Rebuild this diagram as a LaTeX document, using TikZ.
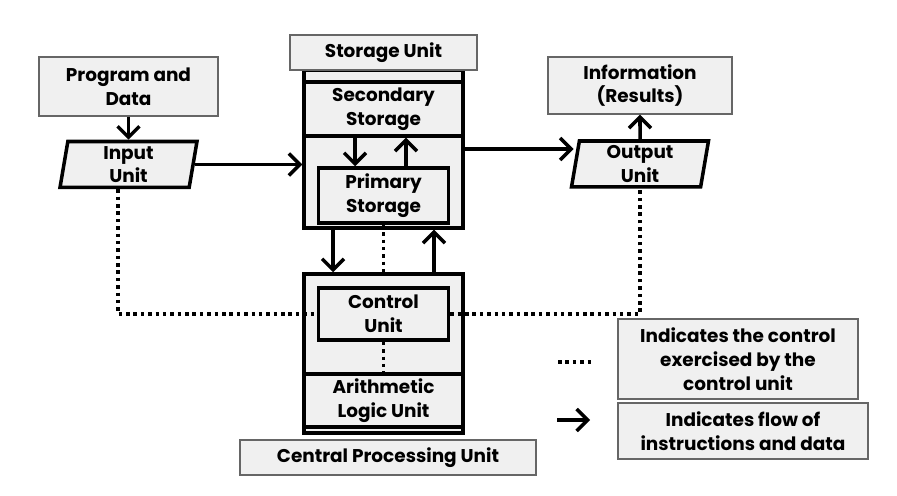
\documentclass[tikz,border=0pt]{standalone}
\usepackage{fontspec}
\setmainfont{Poppins}
\usepackage{tikz}
\usetikzlibrary{arrows.meta, positioning, calc, shapes.geometric}
\definecolor{boxgray}{HTML}{F0F0F0}

\begin{document}
\begin{tikzpicture}[
    x=0.02cm, y=-0.02cm,
    font=\bfseries\fontsize{10.5}{13.5}\selectfont,
    tag/.style={rectangle, draw=black!60, fill=boxgray, line width=0.7pt, align=center, inner sep=0pt},
    unit/.style={rectangle, draw, fill=boxgray, line width=2pt, align=center, inner sep=0pt},
    io/.style={trapezium, trapezium left angle=78, trapezium right angle=102, trapezium stretches body,
        draw, fill=boxgray, line width=2pt, align=center, inner sep=0pt, minimum width=2.74cm, minimum height=0.92cm},
    arrow/.style={-{Straight Barb[length=2.2mm, width=4.4mm]}, line width=2pt},
    ctrl/.style={line width=2pt, dash pattern=on 2pt off 2.2pt}
]
    \useasboundingbox (0,0) rectangle (897,496);

    \node[tag, minimum width=3.58cm, minimum height=1.18cm] (prog) at (128.5,86.5) {Program and\\Data};
    \node[io] (input) at (128.5,164.5) {Input\\Unit};
    \node[tag, minimum width=3.68cm, minimum height=1.14cm] (info) at (640,85.5) {Information\\(Results)};
    \node[io] (output) at (640,164) {Output\\Unit};

    \node[unit, minimum width=3.18cm, minimum height=3.16cm] (storage) at (383.5,149) {};
    \node[unit, minimum width=3.18cm, minimum height=1.08cm] (secondary) at (383.5,109) {Secondary\\Storage};
    \node[unit, minimum width=2.6cm, minimum height=1.1cm] (primary) at (383.5,195.5) {Primary\\Storage};
    \node[tag, minimum width=3.74cm, minimum height=0.7cm] (storelabel) at (383.5,52.5) {Storage Unit};

    \node[unit, minimum width=3.18cm, minimum height=3.18cm] (cpu) at (383.5,353.5) {};
    \node[unit, minimum width=2.6cm, minimum height=1.04cm] (control) at (383.5,314) {Control\\Unit};
    \node[unit, minimum width=3.18cm, minimum height=1.06cm] (alu) at (383.5,400.5) {Arithmetic\\Logic Unit};
    \node[tag, minimum width=5.92cm, minimum height=0.7cm] (cpulabel) at (388,457.5) {Central Processing Unit};

    \node[tag, minimum width=4.8cm, minimum height=1.6cm] (ctrlnote) at (738,359) {Indicates the control\\exercised by the\\control unit};
    \node[tag, minimum width=5cm, minimum height=1.12cm] (flownote) at (743,431) {Indicates flow of\\instructions and data};
    \coordinate (dotA) at (558,362);
    \coordinate (dotB) at (592,362);
    \coordinate (arrA) at (557,420);
    \coordinate (arrB) at (590,420);

    \draw[arrow] (prog.south) -- (prog.south |- input.north);
    \draw[arrow] (input.east) -- (input.east -| storage.west);
    \draw[arrow] (storage.east) -- (storage.east -| output.west);
    \draw[arrow] (output.north) -- (info.south);
    \draw[arrow] ([xshift=-0.57cm]secondary.south) -- ([xshift=-0.57cm]primary.north);
    \draw[arrow] ([xshift=0.45cm]primary.north) -- ([xshift=0.45cm]secondary.south);
    \draw[arrow] ([xshift=-1.01cm]storage.south) -- ([xshift=-1.01cm]cpu.north);
    \draw[arrow] ([xshift=1.01cm]cpu.north) -- ([xshift=1.01cm]storage.south);

    \draw[ctrl] (primary.south) -- (cpu.north);
    \draw[ctrl] (control.south) -- (alu.north);
    \draw[ctrl] ([xshift=-0.21cm]input.south) |- (control.west);
    \draw[ctrl] (control.east) -| (output.south);

    \draw[ctrl] (dotA) -- (dotB);
    \draw[arrow] (arrA) -- (arrB);
\end{tikzpicture}
\end{document}
